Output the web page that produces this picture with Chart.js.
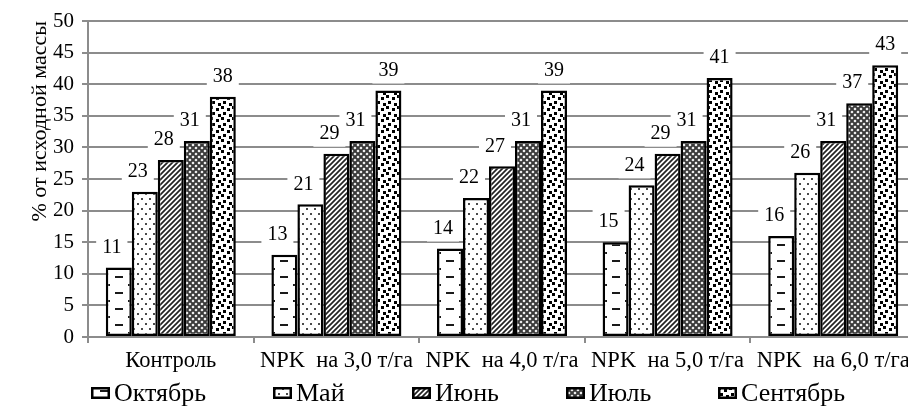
<!DOCTYPE html>
<html>
<head>
<meta charset="utf-8">
<script src="https://cdn.jsdelivr.net/npm/chart.js@4.4.1/dist/chart.umd.min.js"></script>
<style>
  html, body { margin: 0; padding: 0; background: #fff; overflow: hidden; }
  #wrap { width: 908px; height: 407px; overflow: hidden; position: relative; }
  canvas { display: block; }
</style>
</head>
<body>
<div id="wrap"><canvas id="c" width="916" height="407"></canvas></div>
<script>
// Categories (treatments) and series (month of sampling)
const categories = ['Контроль', 'NPK  на 3,0 т/га', 'NPK  на 4,0 т/га', 'NPK  на 5,0 т/га', 'NPK  на 6,0 т/га'];
const seriesNames = ['Октябрь', 'Май', 'Июнь', 'Июль', 'Сентябрь'];
const october = [11, 13, 14, 15, 16];
const may = [23, 21, 22, 24, 26];
const june = [28, 29, 27, 29, 31];
const july = [31, 31, 31, 31, 37];
const september = [38, 39, 39, 41, 43];
const yMin = 0, yMax = 50, yStep = 5;
const yTitle = '% от исходной массы';

const FONT = "'Liberation Serif', 'Times New Roman', serif";
const GRID = '#8c8c8c';
const CAT_PCT = 0.785;

// ---- fill patterns ----
function tile(w, h, draw) {
  const c = document.createElement('canvas');
  c.width = w; c.height = h;
  const g = c.getContext('2d');
  g.fillStyle = '#fff';
  g.fillRect(0, 0, w, h);
  draw(g, w, h);
  return c;
}
const tiles = [
  // horizontal dashes, staggered
  tile(26, 16, g => {
    g.fillStyle = '#1a1a1a';
    g.fillRect(9, 3, 8, 2);
    g.fillRect(0, 11, 4, 2);
    g.fillRect(22, 11, 4, 2);
  }),
  // sparse dots
  tile(8, 10, g => {
    g.fillStyle = '#4a4a4a';
    g.fillRect(1, 1, 2, 2);
    g.fillRect(5, 6, 2, 2);
  }),
  // upward diagonal lines
  tile(5, 5, g => {
    g.strokeStyle = '#222';
    g.lineWidth = 1.7;
    g.beginPath();
    g.moveTo(-1, 6); g.lineTo(6, -1);
    g.moveTo(-1, 1); g.lineTo(1, -1);
    g.moveTo(4, 6); g.lineTo(6, 4);
    g.stroke();
  }),
  // diagonal cross-hatch
  tile(6, 6, g => {
    g.strokeStyle = '#3a3a3a';
    g.lineWidth = 2;
    g.beginPath();
    g.moveTo(-1, -1); g.lineTo(7, 7);
    g.moveTo(-1, 7); g.lineTo(7, -1);
    g.stroke();
  }),
  // confetti squares
  tile(11, 11, g => {
    g.fillStyle = '#000';
    g.fillRect(0, 0, 3, 3);
    g.fillRect(6, 2, 3, 3);
    g.fillRect(2, 6, 3, 3);
    g.fillRect(8, 8, 3, 3);
  })
];

const scratch = document.createElement('canvas').getContext('2d');
function patternAt(i, tx, ty) {
  const p = scratch.createPattern(tiles[i], 'repeat');
  p.setTransform(new DOMMatrix([1, 0, 0, 1, tx, ty]));
  return p;
}

// each bar gets its pattern anchored at its own left edge
function barFill(ctx) {
  const i = ctx.datasetIndex;
  const chart = ctx.chart;
  const xs = chart.scales && chart.scales.x;
  if (ctx.type !== 'data' || !xs || !chart.chartArea) return patternAt(i, 0, 0);
  const catW = xs.width / categories.length;
  const groupW = catW * CAT_PCT;
  const barW = groupW / seriesNames.length;
  const left = xs.getPixelForValue(ctx.dataIndex) - groupW / 2 + i * barW;
  return patternAt(i, Math.round(left), Math.round(chart.chartArea.bottom));
}

const values = [october, may, june, july, september];
const datasets = seriesNames.map((name, i) => ({
  label: name,
  data: values[i],
  backgroundColor: barFill,
  borderColor: '#000',
  borderWidth: 2.5,
  borderSkipped: false,
  categoryPercentage: CAT_PCT,
  barPercentage: 1.0
}));

// value labels on white boxes above bars
const valueLabels = {
  id: 'valueLabels',
  afterDatasetsDraw(chart) {
    const ctx = chart.ctx;
    ctx.save();
    ctx.font = '20px ' + FONT;
    ctx.textAlign = 'center';
    ctx.textBaseline = 'middle';
    chart.data.datasets.forEach((ds, di) => {
      const meta = chart.getDatasetMeta(di);
      meta.data.forEach((el, k) => {
        const txt = String(ds.data[k]);
        const x = el.x + (di < seriesNames.length - 1 ? -7 : 0);
        const y = el.y - 21;
        const w = ctx.measureText(txt).width + 12;
        ctx.fillStyle = '#fff';
        ctx.fillRect(x - w / 2, y - 14, w, 28);
        ctx.fillStyle = '#000';
        ctx.fillText(txt, x, y + 1);
      });
    });
    ctx.restore();
  }
};

// legend row below the axis
const patternLegend = {
  id: 'patternLegend',
  afterDraw(chart) {
    const ctx = chart.ctx;
    ctx.save();
    ctx.font = '26px ' + FONT;
    ctx.textBaseline = 'middle';
    const boxW = 19, boxH = 12, gap = 4, spacing = 67, centerX = 468, cy = 393;
    const widths = seriesNames.map(n => boxW + gap + ctx.measureText(n).width);
    const total = widths.reduce((a, b) => a + b, 0) + spacing * (widths.length - 1);
    let x = centerX - total / 2;
    seriesNames.forEach((n, i) => {
      const bx = Math.round(x), by = Math.round(cy - boxH / 2);
      ctx.fillStyle = patternAt(i, bx, by);
      ctx.fillRect(bx, by, boxW, boxH);
      ctx.strokeStyle = '#000';
      ctx.lineWidth = 2.5;
      ctx.strokeRect(bx + 1.25, by + 1.25, boxW - 2.5, boxH - 2.5);
      ctx.fillStyle = '#000';
      ctx.fillText(n, bx + boxW + gap, cy + 1);
      x += widths[i] + spacing;
    });
    ctx.restore();
  }
};

new Chart(document.getElementById('c'), {
  type: 'bar',
  data: { labels: categories, datasets },
  options: {
    responsive: false,
    animation: false,
    layout: { padding: { top: 21, right: 0, bottom: 0, left: 0 } },
    plugins: { legend: { display: false }, tooltip: { enabled: false } },
    scales: {
      x: {
        offset: true,
        grid: { offset: true, drawOnChartArea: false, drawTicks: true, tickLength: 6, color: GRID, lineWidth: 2 },
        border: { color: GRID, width: 2 },
        ticks: { font: { family: FONT, size: 22.5 }, color: '#000', maxRotation: 0, autoSkip: false, padding: 5 },
        afterFit(s) { s.height = 70; }
      },
      y: {
        min: yMin, max: yMax,
        ticks: { stepSize: yStep, font: { family: FONT, size: 21 }, color: '#000', padding: 8 },
        grid: { color: GRID, lineWidth: 2, tickLength: 6 },
        border: { color: GRID, width: 2 },
        title: { display: true, text: yTitle, font: { family: FONT, size: 22 }, color: '#000', align: 'end', padding: { top: 27, bottom: 0 } },
        afterFit(s) { s.width = 88; }
      }
    }
  },
  plugins: [valueLabels, patternLegend]
});
</script>
</body>
</html>
